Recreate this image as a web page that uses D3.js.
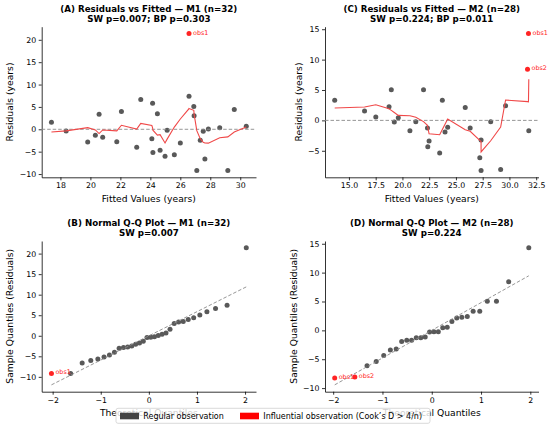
<!DOCTYPE html>
<html>
<head>
<meta charset="utf-8">
<script src="https://cdn.jsdelivr.net/npm/d3@7"></script>
<style>
  body { margin: 0; background: #fff; }
  svg { font-family: "DejaVu Sans", sans-serif; }
</style>
</head>
<body>
<svg id="fig" width="550" height="427"></svg>
<script>
// ---- M1 (n=32): residuals vs fitted, ordered by fitted value ----
const fittedM1 = [17.40, 18.38, 19.82, 20.33, 20.58, 20.82, 21.76, 22.07, 23.09, 23.36,
                  24.10, 24.15, 24.17, 24.47, 24.65, 24.98, 25.12, 25.60, 26.00, 26.58,
                  26.58, 26.90, 26.92, 27.10, 27.33, 27.53, 27.64, 27.87, 28.63, 29.17,
                  29.60, 30.40];
const residM1 = [1.57, -0.37, -2.84, -1.34, 3.36, -1.79, -2.76, 3.96, -4.03, 6.64,
                 -2.09, 5.82, -5.18, 3.50, -4.70, -6.00, -0.22, -5.67, -3.06, 21.40,
                 7.40, 5.07, 3.00, -9.20, -2.46, -0.45, -6.64, 0.07, 0.37, -9.20,
                 4.40, 0.67];
const lowessM1 = [-0.60, -0.35, 0.37, -0.15, -0.95, -0.15, -0.35, 0.90, 0.05, 1.30,
                  0.85, 0.30, -0.20, -1.30, -1.20, -3.05, -2.20, 0.50, 2.30, 4.60,
                  4.65, 4.25, 3.40, -0.30, -2.10, -2.90, -3.05, -3.10, -1.90, -1.70,
                  -0.60, 0.50];
const flagM1 = {19: "obs1"};

// ---- M2 (n=28) ----
const fittedM2 = [13.67, 16.46, 17.51, 18.75, 18.96, 19.24, 19.61, 20.70, 21.25, 21.97,
                  22.34, 22.37, 22.49, 23.48, 23.73, 23.98, 24.23, 25.87, 26.33, 27.23,
                  27.35, 27.35, 28.25, 29.18, 29.64, 31.69, 31.78, 31.81];
const residM2 = [3.30, 1.54, 0.55, 2.25, 5.05, -0.27, 0.44, -1.70, -0.22, 5.05,
                 -1.26, -4.34, -3.41, -5.38, 3.30, -1.92, -1.15, 2.14, -1.26, -6.15,
                 -3.24, -8.24, -0.22, -8.08, 2.42, 8.41, 14.29, -1.70];
const lowessM2 = [2.03, 2.20, 2.58, 1.92, 1.65, 1.30, 0.82, 0.77, 0.50, -0.20,
                  -0.82, -1.10, -2.20, -2.36, -1.50, -0.65, 0.22, -1.54, -1.80, -3.30,
                  -3.50, -5.20, -3.35, -1.10, 3.35, 3.08, 3.05, 6.76];
const flagM2 = {25: "obs2", 26: "obs1"};

// ---- theoretical normal quantiles (probplot positions) ----
const theoM1 = [-2.025, -1.626, -1.386, -1.207, -1.060, -0.932, -0.819, -0.715, -0.618, -0.527,
                -0.440, -0.356, -0.275, -0.195, -0.116, -0.039, 0.039, 0.116, 0.195, 0.275,
                0.356, 0.440, 0.527, 0.618, 0.715, 0.819, 0.932, 1.060, 1.207, 1.386,
                1.626, 2.025];
const theoM2 = [-1.969, -1.561, -1.313, -1.127, -0.974, -0.840, -0.721, -0.610, -0.507, -0.409,
                -0.314, -0.223, -0.133, -0.044, 0.044, 0.133, 0.223, 0.314, 0.409, 0.507,
                0.610, 0.721, 0.840, 0.974, 1.127, 1.313, 1.561, 1.969];
const qqFlagM1 = ["obs1"];
const qqFlagM2 = ["obs1", "obs2"];

// ---- ticks ----
const xTicksA = [18, 20, 22, 24, 26, 28, 30];
const yTicksA = [-10, -5, 0, 5, 10, 15, 20];
const xTicksC = [15, 17.5, 20, 22.5, 25, 27.5, 30, 32.5];
const yTicksC = [-5, 0, 5, 10, 15];
const xTicksQQ = [-2, -1, 0, 1, 2];
const yTicksB = [-10, -5, 0, 5, 10, 15, 20];
const yTicksD = [-10, -5, 0, 5, 10, 15];

const titles = {
  A: ["(A) Residuals vs Fitted — M1 (n=32)", "SW p=0.007; BP p=0.303"],
  B: ["(B) Normal Q-Q Plot — M1 (n=32)", "SW p=0.007"],
  C: ["(C) Residuals vs Fitted — M2 (n=28)", "SW p=0.224; BP p=0.011"],
  D: ["(D) Normal Q-Q Plot — M2 (n=28)", "SW p=0.224"]
};

const GRAY = "#595959", RED = "#ff2424", LOESS = "#f04848";
const svg = d3.select("#fig");

function padded(ext) {
  const r = ext[1] - ext[0];
  return [ext[0] - 0.05 * r, ext[1] + 0.05 * r];
}

function frame(box, xDom, yDom, xTicks, yTicks, xFmt, title, xLabel, yLabel, yLabelX) {
  const x = d3.scaleLinear().domain(xDom).range([box.left, box.right]);
  const y = d3.scaleLinear().domain(yDom).range([box.bottom, box.top]);
  const g = svg.append("g");

  const xa = g.append("g")
    .attr("transform", `translate(0,${box.bottom})`)
    .call(d3.axisBottom(x).tickValues(xTicks).tickFormat(xFmt)
      .tickSize(3).tickPadding(2.5).tickSizeOuter(0));
  const ya = g.append("g")
    .attr("transform", `translate(${box.left},0)`)
    .call(d3.axisLeft(y).tickValues(yTicks).tickFormat(d3.format("d"))
      .tickSize(3).tickPadding(2.5).tickSizeOuter(0));
  [xa, ya].forEach(a => {
    a.attr("font-family", null).attr("font-size", null);
    a.selectAll("text").attr("font-size", 7.8).attr("fill", "#000");
    a.select(".domain").attr("stroke-width", 0.8);
    a.selectAll(".tick line").attr("stroke-width", 0.8);
  });

  const cx = (box.left + box.right) / 2;
  const t = g.append("text").attr("text-anchor", "middle")
    .attr("font-weight", "bold").attr("font-size", 8.7);
  t.append("tspan").attr("x", cx).attr("y", box.top - 15.2).text(title[0]);
  t.append("tspan").attr("x", cx).attr("y", box.top - 5.2).text(title[1]);

  g.append("text").attr("x", cx).attr("y", box.bottom + 24.6)
    .attr("text-anchor", "middle").attr("font-size", 9.2).text(xLabel);
  g.append("text")
    .attr("transform", `translate(${yLabelX},${(box.top + box.bottom) / 2}) rotate(-90)`)
    .attr("text-anchor", "middle").attr("font-size", 9.2).text(yLabel);
  return {g, x, y};
}

function residPanel(box, fitted, resid, lowess, flags, xTicks, yTicks, xFmt, title, yLabelX) {
  const xDom = padded(d3.extent(fitted));
  const yDom = padded(d3.extent(resid.concat(lowess)));
  const {g, x, y} = frame(box, xDom, yDom, xTicks, yTicks, xFmt, title,
    "Fitted Values (years)", "Residuals (years)", yLabelX);

  const pts = fitted.map((f, i) => ({f, r: resid[i], lab: flags[i] || ""}));
  g.append("g").selectAll("circle").data(pts).join("circle")
    .attr("cx", d => x(d.f)).attr("cy", d => y(d.r)).attr("r", 2.5)
    .attr("fill", d => d.lab ? RED : GRAY);

  g.append("line")
    .attr("x1", box.left).attr("x2", box.right)
    .attr("y1", y(0)).attr("y2", y(0))
    .attr("stroke", "#8a8a8a").attr("stroke-width", 0.9).attr("stroke-dasharray", "3.5,2");

  g.append("path")
    .datum(fitted.map((f, i) => [f, lowess[i]]))
    .attr("fill", "none").attr("stroke", LOESS).attr("stroke-width", 1.1)
    .attr("d", d3.line().x(d => x(d[0])).y(d => y(d[1])));

  g.append("g").selectAll("text").data(pts.filter(d => d.lab)).join("text")
    .attr("x", d => x(d.f) + 4).attr("y", d => y(d.r) + 1)
    .attr("font-size", 6.4).attr("fill", RED).text(d => d.lab);
}

function qqPanel(box, theo, resid, qqFlags, yTicks, title, yLabelX) {
  const sample = d3.sort(resid);
  const mu = d3.mean(resid), sd = d3.deviation(resid);
  const q0 = theo[0], q1 = theo[theo.length - 1];
  const line = [[q0, mu + sd * q0], [q1, mu + sd * q1]];
  const xDom = padded(d3.extent(theo));
  const yDom = padded(d3.extent(sample.concat([line[0][1], line[1][1]])));
  const {g, x, y} = frame(box, xDom, yDom, xTicksQQ, yTicks, d3.format("d"), title,
    "Theoretical Quantiles", "Sample Quantiles (Residuals)", yLabelX);

  const pts = theo.map((q, i) => ({q, s: sample[i], lab: qqFlags[i] || ""}));
  g.append("g").selectAll("circle").data(pts).join("circle")
    .attr("cx", d => x(d.q)).attr("cy", d => y(d.s)).attr("r", 2.5)
    .attr("fill", d => d.lab ? RED : GRAY);

  g.append("line")
    .attr("x1", x(line[0][0])).attr("y1", y(line[0][1]))
    .attr("x2", x(line[1][0])).attr("y2", y(line[1][1]))
    .attr("stroke", "#8a8a8a").attr("stroke-width", 0.9).attr("stroke-dasharray", "3.5,2");

  g.append("g").selectAll("text").data(pts.filter(d => d.lab)).join("text")
    .attr("x", d => x(d.q) + 4).attr("y", d => y(d.s) + 0.8)
    .attr("font-size", 6.4).attr("fill", RED).text(d => d.lab);
}

residPanel({left: 41.7, right: 256, top: 26.7, bottom: 177.3},
  fittedM1, residM1, lowessM1, flagM1, xTicksA, yTicksA, d3.format("d"), titles.A, 13);
residPanel({left: 325, right: 538.5, top: 26.7, bottom: 177.3},
  fittedM2, residM2, lowessM2, flagM2, xTicksC, yTicksC, d3.format(".1f"), titles.C, 302);
qqPanel({left: 41.7, right: 256, top: 241, bottom: 391.7},
  theoM1, residM1, qqFlagM1, yTicksB, titles.B, 13);
qqPanel({left: 325, right: 538.5, top: 241, bottom: 391.7},
  theoM2, residM2, qqFlagM2, yTicksD, titles.D, 297);

// ---- shared legend ----
const legendItems = [
  {label: "Regular observation", color: "#444444"},
  {label: "Influential observation (Cook’s D > 4/n)", color: "#ff0000"}
];
const lg = svg.append("g");
lg.append("rect").attr("x", 116).attr("y", 408.3).attr("width", 314).attr("height", 15)
  .attr("rx", 2).attr("fill", "#fff").attr("fill-opacity", 0.8)
  .attr("stroke", "#d0d0d0").attr("stroke-width", 0.8);
const itemX = [120, 240];
legendItems.forEach((it, i) => {
  lg.append("rect").attr("x", itemX[i]).attr("y", 412.7).attr("width", 19).attr("height", 6.6)
    .attr("fill", it.color);
  lg.append("text").attr("x", itemX[i] + 23.3).attr("y", 419)
    .attr("font-size", 8).attr("fill", "#000").text(it.label);
});
</script>
</body>
</html>
